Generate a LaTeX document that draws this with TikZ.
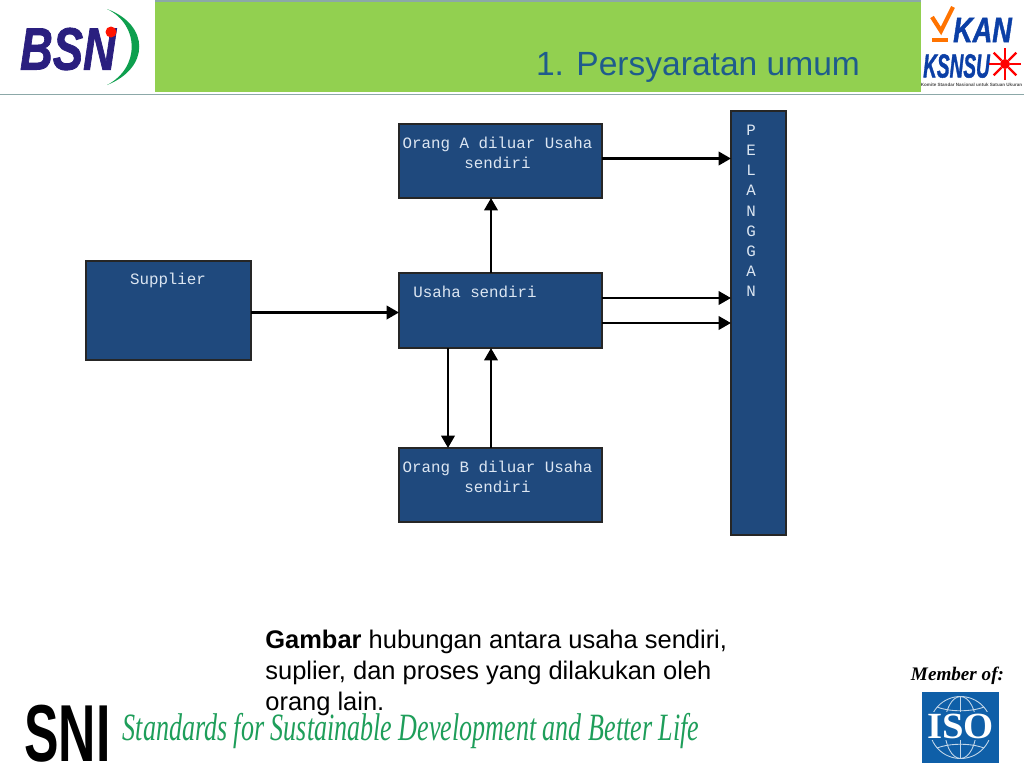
\documentclass[tikz,border=0pt]{standalone}
\usepackage{fontspec}
\setmainfont{Liberation Sans}
\setmonofont{Liberation Mono}
\newfontfamily\logoserif{Liberation Serif}
\newfontfamily\logoheavy[UprightFont=* Bold Italic,FakeBold=1.5]{Liberation Sans}
\usetikzlibrary{arrows.meta}

\definecolor{bandgreen}{HTML}{92D050}
\definecolor{bandline}{HTML}{8CA8A8}
\definecolor{boxblue}{HTML}{1F497D}
\definecolor{boxtext}{HTML}{DCE6F2}
\definecolor{titleblue}{HTML}{1F5C8C}
\definecolor{bsnblue}{HTML}{2A1F7F}
\definecolor{kanblue}{HTML}{0B3FA6}
\definecolor{logogreen}{HTML}{0E9F4E}
\definecolor{sloganGreen}{HTML}{1E9E5A}
\definecolor{isoblue}{HTML}{0F5FA8}

\tikzset{
    blockbox/.style={draw=black!85, line width=1pt, fill=boxblue, outer sep=0pt, inner sep=0pt},
    blocktext/.style={text=boxtext, font=\ttfamily\fontsize{9}{11.5}\selectfont, align=center, inner sep=0pt, anchor=north},
    flow/.style={line width=1.6pt, draw=black, -{Triangle[length=7pt,width=7.5pt]}},
    logotext/.style={inner sep=0pt}
}

\begin{document}
\begin{tikzpicture}[x=0.02cm,y=-0.02cm]

    % Fix the page to the size of the slide
    \useasboundingbox (0,0) rectangle (1024,768);
    \fill[white] (0,0) rectangle (1024,768);

    % Draw the green title band and its lines
    \fill[bandgreen] (155,1) rectangle (921,92);
    \draw[bandline, line width=1pt] (155,1) -- (921,1);
    \draw[bandline, line width=1pt] (0,94.5) -- (1024,94.5);
    \node[text=titleblue, font=\fontsize{19.1}{22}\selectfont, inner sep=0pt] (title) at (698,67) {1. Persyaratan umum};

    % BSN logo, top left
    \node[logotext, text=bsnblue, font=\logoheavy\fontsize{34}{34}\selectfont, xscale=0.76] (bsnlogo) at (68,49) {BSN};
    \fill[red!85!orange] (111,32) circle (5.5);
    \fill[logogreen] (107,9) .. controls (150,25) and (150,68) .. (107,85) .. controls (140,68) and (140,25) .. (107,9);

    % KAN and KSNSU logo, top right
    \draw[orange!90!red, line width=2.4pt] (932,17) -- (941,31) -- (953,7);
    \fill[orange!90!red] (932,38) rectangle (948,42);
    \node[logotext, text=kanblue, font=\logoheavy\fontsize{20}{20}\selectfont, xscale=0.77] (kanlogo) at (982.5,30) {KAN};
    \node[logotext, text=kanblue, font=\logoheavy\fontsize{19}{19}\selectfont, xscale=0.57] (ksnsulogo) at (956.5,66) {KSNSU};
    \foreach \ang in {0,45,...,315} {
        \draw[red, line width=1.3pt] (1005,64) ++(\ang:5) -- ++(\ang:11);
    }
    \fill[red] (1005,64) circle (5);
    \node[font=\bfseries\fontsize{2.6}{4}\selectfont, text=black!70, inner sep=0pt] (komite) at (971.5,85) {Komite Standar Nasional untuk Satuan Ukuran};

    % Define the blocks of the diagram
    \node[blockbox, minimum width=4.06cm, minimum height=1.48cm] (orangA) at (500.5,161) {};
    \node[blockbox, minimum width=4.06cm, minimum height=1.5cm] (usaha) at (500.5,310.5) {};
    \node[blockbox, minimum width=4.06cm, minimum height=1.48cm] (orangB) at (500.5,485) {};
    \node[blockbox, minimum width=3.3cm, minimum height=1.98cm] (supplier) at (168.5,310.5) {};
    \node[blockbox, minimum width=1.1cm, minimum height=8.48cm] (pelanggan) at (758.5,323) {};

    % Place the texts in the blocks, near their top edges
    \node[blocktext] (orangAtext) at (497.5,136.5) {Orang A diluar Usaha\\sendiri};
    \node[blocktext] (usahatext) at (475,285.5) {Usaha sendiri};
    \node[blocktext] (orangBtext) at (497.5,460.5) {Orang B diluar Usaha\\sendiri};
    \node[blocktext] (suppliertext) at (168,272.5) {Supplier};
    \node[blocktext] (pelanggantext) at (751,124.5) {P\\E\\L\\A\\N\\G\\G\\A\\N};

    % Columns and rows that the connectors run along
    \coordinate (upline) at (491,0);
    \coordinate (downline) at (448,0);
    \coordinate (topline) at (0,158.5);
    \coordinate (midline) at (0,298);
    \coordinate (lowline) at (0,323);
    \coordinate (inline) at (0,312.5);

    % Draw the connectors between the blocks
    \draw[flow] (supplier.east |- inline) -- (usaha.west |- inline);
    \draw[flow] (usaha.north -| upline) -- (orangA.south -| upline);
    \draw[flow] (orangA.east |- topline) -- (pelanggan.west |- topline);
    \draw[flow] (usaha.east |- midline) -- (pelanggan.west |- midline);
    \draw[flow] (usaha.east |- lowline) -- (pelanggan.west |- lowline);
    \draw[flow] (usaha.south -| downline) -- (orangB.north -| downline);
    \draw[flow] (orangB.north -| upline) -- (usaha.south -| upline);

    % Caption under the diagram
    \node[anchor=north west, align=left, inner sep=0pt, font=\fontsize{14.5}{17.6}\selectfont] (caption) at (265,630)
        {\textbf{Gambar} hubungan antara usaha sendiri,\\suplier, dan proses yang dilakukan oleh\\orang lain.};

    % SNI mark and slogan, bottom left
    \node[font=\bfseries\fontsize{46}{46}\selectfont, xscale=0.64, inner sep=0pt] (snilogo) at (67.5,734) {SNI};
    \node[text=sloganGreen, font=\logoserif\itshape\fontsize{22}{22}\selectfont, xscale=0.674, inner sep=0pt] (slogan) at (411,731) {Standards for Sustainable Development and Better Life};

    % Member mark and ISO logo, bottom right
    \node[font=\logoserif\bfseries\itshape\fontsize{10.9}{13}\selectfont, inner sep=0pt] (member) at (957.5,676) {Member of:};
    \fill[isoblue] (922,692) rectangle (999,763);
    \begin{scope}[draw=white!75!isoblue, line width=0.5pt]
        \draw (960.5,727.5) circle (31);
        \draw (960.5,727.5) ellipse (16 and 31);
        \draw (960.5,696.5) -- (960.5,758.5);
        \draw (937,707) .. controls (950,712) and (971,712) .. (984,707);
        \draw (937,748) .. controls (950,743) and (971,743) .. (984,748);
    \end{scope}
    \node[text=white, fill=isoblue, font=\logoserif\bfseries\fontsize{21}{21}\selectfont, xscale=1.05, inner sep=1pt] (isologo) at (960.5,726) {ISO};

\end{tikzpicture}
\end{document}
